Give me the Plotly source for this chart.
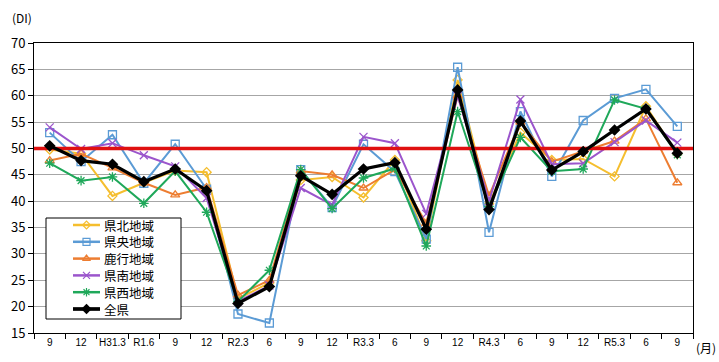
import plotly.graph_objects as go

tick_labels = ["9", "12", "H31.3", "R1.6", "9", "12", "R2.3", "6", "9", "12", "R3.3",
               "6", "9", "12", "R4.3", "6", "9", "12", "R5.3", "6", "9"]

kenpoku = [49.8, 49.0, 41.0, 43.5, 45.8, 45.5, 21.5, 24.5, 44.0, 44.6, 40.7,
           47.8, 32.5, 63.0, 39.5, 53.0, 47.8, 48.0, 44.7, 58.0, 49.0]
kenou = [53.0, 47.5, 52.6, 43.4, 50.8, 42.3, 18.6, 16.9, 46.0, 38.8, 50.8,
         45.6, 32.8, 65.4, 34.1, 57.0, 44.7, 55.3, 59.5, 61.2, 54.2]
rokko = [47.7, 49.0, 46.3, 43.5, 41.2, 42.6, 22.2, 25.0, 45.7, 45.0, 42.5,
         46.0, 35.8, 60.0, 41.0, 55.0, 47.5, 49.5, 51.4, 55.6, 43.5]
kennan = [54.0, 49.9, 51.0, 48.7, 46.6, 40.6, 21.0, 24.0, 42.5, 39.3, 52.2,
          51.0, 37.6, 60.0, 40.0, 59.3, 47.0, 47.2, 51.2, 55.3, 51.1]
kensei = [47.2, 43.9, 44.6, 39.6, 45.7, 37.9, 21.0, 26.9, 46.0, 38.6, 44.4,
          46.2, 31.5, 57.0, 39.0, 52.1, 45.7, 46.1, 59.2, 57.5, 48.8]
zenken = [50.5, 47.7, 47.0, 43.7, 46.1, 42.0, 20.6, 23.8, 44.8, 41.3, 46.1,
          47.3, 34.7, 61.1, 38.4, 55.2, 45.9, 49.4, 53.5, 57.5, 49.1]

BASELINE = 50

x = list(range(len(tick_labels)))

# (name, values, color, symbol, marker size, line width, filled)
series = [
    ("県北地域", kenpoku, "#F5BE2E", "diamond-open", 7, 2, False),
    ("県央地域", kenou, "#5B9BD5", "square-open", 8, 2, False),
    ("鹿行地域", rokko, "#ED7D31", "triangle-up-open", 8, 2, False),
    ("県南地域", kennan, "#9B55CC", "x-thin-open", 8, 2, False),
    ("県西地域", kensei, "#1FA85A", "asterisk-open", 8, 2, False),
    ("全県", zenken, "#000000", "diamond", 9, 3.2, True),
]

font_family = "Noto Sans CJK JP, Noto Sans, sans-serif"

W, H = 719, 362
L, R, T, B = 34, 26, 43, 29
pw, ph = W - L - R, H - T - B


def px_x(v):
    return (v - L) / pw


def px_y(v):
    return (H - B - v) / ph


fig = go.Figure()

for name, vals, color, sym, size, lw, filled in series[:5]:
    fig.add_trace(go.Scatter(
        x=x, y=vals, name=name, mode="lines+markers", showlegend=False,
        line=dict(color=color, width=lw),
        marker=dict(symbol=sym, size=size, color=color, line=dict(color=color, width=1.3)),
    ))

fig.add_trace(go.Scatter(
    x=[-0.5, len(x) - 0.5], y=[BASELINE, BASELINE], mode="lines",
    line=dict(color="#E01010", width=3.5), showlegend=False, hoverinfo="skip",
))

name, vals, color, sym, size, lw, filled = series[5]
fig.add_trace(go.Scatter(
    x=x, y=vals, name=name, mode="lines+markers", showlegend=False,
    line=dict(color=color, width=lw),
    marker=dict(symbol=sym, size=size, color=color),
))

# ---- hand-drawn legend on a pixel-space overlay axis ----
box_l, box_r, box_t, box_b = 46, 181, 218, 319
fig.add_trace(go.Scatter(
    x=[box_l, box_r, box_r, box_l, box_l], y=[box_t, box_t, box_b, box_b, box_t],
    xaxis="x2", yaxis="y2", mode="lines", fill="toself", fillcolor="white",
    line=dict(color="#000000", width=1), showlegend=False, hoverinfo="skip",
))
row0, row_step = 225, 16.8
line_l, line_r = 73, 100
annotations = []
for i, (name, vals, color, sym, size, lw, filled) in enumerate(series):
    yc = row0 + row_step * i
    fig.add_trace(go.Scatter(
        x=[line_l, line_r], y=[yc, yc], xaxis="x2", yaxis="y2", mode="lines",
        line=dict(color=color, width=lw + 0.5), showlegend=False, hoverinfo="skip",
    ))
    mk = dict(symbol=sym, size=size - 1, color=color)
    if not filled:
        mk["line"] = dict(color=color, width=1.2)
    fig.add_trace(go.Scatter(
        x=[(line_l + line_r) / 2], y=[yc], xaxis="x2", yaxis="y2", mode="markers",
        marker=mk, showlegend=False, hoverinfo="skip",
    ))
    annotations.append(dict(
        text=name, x=103, y=yc, xref="x2", yref="y2", showarrow=False,
        xanchor="left", yanchor="middle", borderpad=0,
        font=dict(size=12.5, family=font_family),
    ))

annotations += [
    dict(text="(DI)", x=px_x(22), y=px_y(18), xref="paper", yref="paper",
         showarrow=False, xanchor="center", yanchor="middle",
         font=dict(size=12, family=font_family)),
    dict(text="(月)", x=px_x(706), y=px_y(347), xref="paper", yref="paper",
         showarrow=False, xanchor="center", yanchor="middle",
         font=dict(size=12, family=font_family)),
]

fig.update_layout(
    width=W, height=H,
    margin=dict(l=L, r=R, t=T, b=B, autoexpand=False),
    paper_bgcolor="white", plot_bgcolor="white",
    font=dict(family=font_family, color="#000000", size=12),
    showlegend=False,
    xaxis=dict(
        range=[-0.5, len(x) - 0.5], automargin=False,
        tickmode="array", tickvals=x, ticktext=tick_labels,
        ticks="", showgrid=False, zeroline=False,
        showline=True, linecolor="#000000", linewidth=1, mirror=True,
        tickfont=dict(size=10, family="Liberation Sans, Arial, sans-serif"),
        minor=dict(tickmode="linear", tick0=-0.5, dtick=1, ticks="outside",
                   ticklen=5, tickcolor="#000000", showgrid=False),
    ),
    yaxis=dict(
        range=[15, 70], dtick=5, tick0=15, automargin=False,
        ticks="outside", ticklen=5, tickcolor="#000000",
        showgrid=True, gridcolor="#A6A6A6", gridwidth=1, zeroline=False,
        showline=True, linecolor="#000000", linewidth=1, mirror=True,
        tickfont=dict(size=13, family=font_family),
    ),
    xaxis2=dict(range=[L, W - R], overlaying="x", visible=False, fixedrange=True),
    yaxis2=dict(range=[H - B, T], overlaying="y", visible=False, fixedrange=True),
    annotations=annotations,
)

fig.write_html("out.html", config={"displayModeBar": False},
               post_script="document.body.style.margin='0';")
